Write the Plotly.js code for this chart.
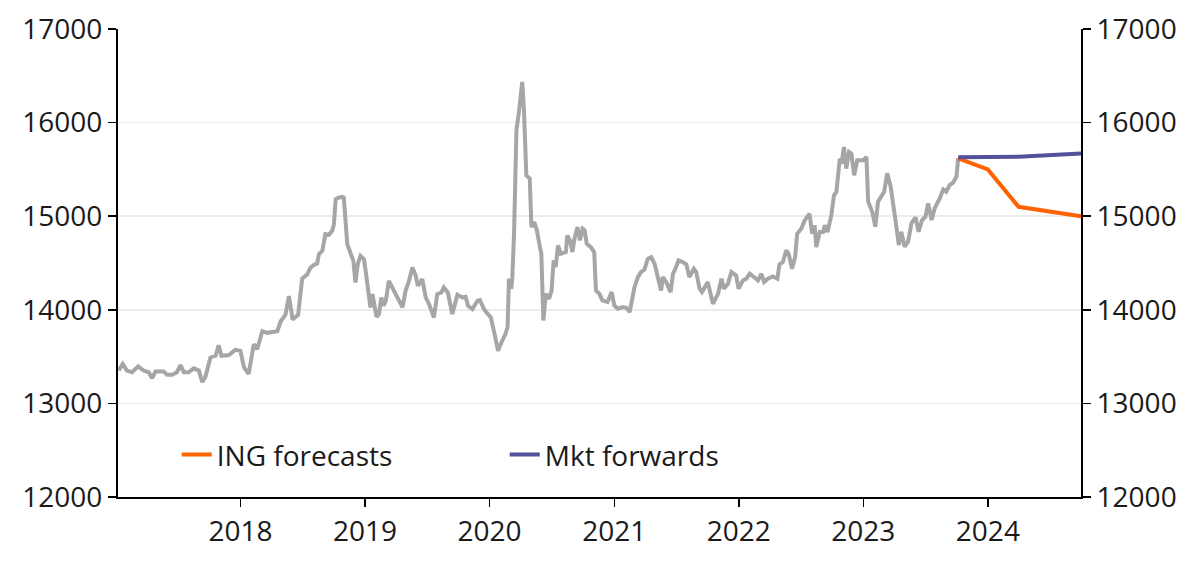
<!DOCTYPE html>
<html>
<head>
<meta charset="utf-8">
<script src="https://cdn.plot.ly/plotly-3.0.1.min.js"></script>
<style>
  html, body { margin: 0; padding: 0; background: #fff; }
  #plot { width: 1200px; height: 563px; }
</style>
</head>
<body>
<div id="plot"></div>
<script>
// spot rate (roughly every 1-2 weeks)
var spotDates = [
  "2017-01-09","2017-01-21","2017-02-02","2017-02-17","2017-03-07","2017-03-23","2017-04-07","2017-04-17","2017-04-27",
  "2017-05-21","2017-05-31","2017-06-15","2017-06-29","2017-07-09","2017-07-19","2017-08-02","2017-08-17","2017-09-01",
  "2017-09-11","2017-09-20","2017-10-05","2017-10-20","2017-10-29","2017-11-06","2017-11-28","2017-12-17",
  "2018-01-01","2018-01-11","2018-01-25","2018-02-09","2018-02-19","2018-03-06","2018-03-20","2018-04-19","2018-04-29",
  "2018-05-13","2018-05-23","2018-06-03","2018-06-19","2018-07-01","2018-07-16","2018-07-25","2018-08-04","2018-08-14",
  "2018-08-19","2018-08-29","2018-09-07","2018-09-17","2018-09-27","2018-10-02","2018-10-07","2018-10-16","2018-10-26",
  "2018-10-31","2018-11-10","2018-11-20","2018-11-28","2018-12-04","2018-12-11","2018-12-19","2018-12-29",
  "2019-01-03","2019-01-12","2019-01-17","2019-01-23","2019-01-29","2019-02-04","2019-02-11","2019-02-18","2019-02-24",
  "2019-03-03","2019-03-12","2019-03-22","2019-04-01","2019-04-11","2019-04-21","2019-04-30","2019-05-10","2019-05-20",
  "2019-05-30","2019-06-05","2019-06-18","2019-06-28","2019-07-08","2019-07-22","2019-08-01","2019-08-13","2019-08-20",
  "2019-09-01","2019-09-14","2019-09-29","2019-10-13","2019-10-23","2019-10-30","2019-11-12","2019-11-27","2019-12-04",
  "2019-12-16","2019-12-26",
  "2020-01-05","2020-01-19","2020-01-26","2020-02-05","2020-02-17","2020-02-23","2020-02-27","2020-03-05","2020-03-08",
  "2020-03-13","2020-03-20","2020-03-28","2020-04-06","2020-04-11","2020-04-18","2020-04-28","2020-05-03","2020-05-11",
  "2020-05-19","2020-05-26","2020-06-01","2020-06-07","2020-06-14","2020-06-24","2020-07-01","2020-07-07","2020-07-13",
  "2020-07-20","2020-07-28","2020-08-12","2020-08-16","2020-08-24","2020-08-31","2020-09-07","2020-09-15","2020-09-22",
  "2020-09-30","2020-10-06","2020-10-12","2020-10-24","2020-11-03","2020-11-08","2020-11-18","2020-11-27","2020-12-12",
  "2020-12-24",
  "2021-01-01","2021-01-11","2021-01-26","2021-02-05","2021-02-15","2021-03-01","2021-03-11","2021-03-20","2021-03-30",
  "2021-04-09","2021-04-19","2021-04-29","2021-05-09","2021-05-18","2021-05-23","2021-06-02","2021-06-15","2021-06-22",
  "2021-07-01","2021-07-08","2021-07-21","2021-07-31","2021-08-09","2021-08-22","2021-08-29","2021-09-08","2021-09-15",
  "2021-10-02","2021-10-17","2021-11-01","2021-11-11","2021-11-18","2021-11-30","2021-12-10","2021-12-24","2021-12-31",
  "2022-01-13","2022-01-23","2022-02-02","2022-02-16","2022-02-26","2022-03-08","2022-03-16","2022-03-27","2022-04-11",
  "2022-04-24","2022-04-30","2022-05-10","2022-05-20","2022-05-27","2022-06-06","2022-06-15","2022-06-21","2022-07-03",
  "2022-07-13","2022-07-27","2022-08-04","2022-08-11","2022-08-16","2022-08-26","2022-09-05","2022-09-10","2022-09-18",
  "2022-09-29","2022-10-07","2022-10-14","2022-10-24","2022-10-29","2022-11-05","2022-11-12","2022-11-20","2022-11-27",
  "2022-12-05","2022-12-14","2022-12-31",
  "2023-01-10","2023-01-15","2023-01-27","2023-02-05","2023-02-13","2023-02-23","2023-03-03","2023-03-12","2023-03-22",
  "2023-04-03","2023-04-15","2023-04-22","2023-05-02","2023-05-12","2023-05-22","2023-06-03","2023-06-12","2023-06-22",
  "2023-07-02","2023-07-10","2023-07-20","2023-07-29","2023-08-13","2023-08-23","2023-09-01","2023-09-11","2023-09-21",
  "2023-10-01","2023-10-06"
];
var spotValues = [
  13351,13421,13351,13333,13396,13351,13333,13270,13340,
  13340,13305,13305,13333,13410,13333,13333,13375,13351,
  13228,13281,13491,13509,13621,13509,13516,13572,
  13561,13386,13316,13632,13579,13772,13754,13772,13877,
  13947,14147,13895,13947,14333,14379,14450,14480,14495,
  14594,14630,14808,14801,14843,14915,15181,15199,15206,
  15199,14701,14612,14523,14292,14487,14576,14541,
  14416,14167,14025,14167,14060,13925,13954,14132,14043,
  14096,14309,14238,14149,14096,14025,14203,14309,14452,
  14363,14256,14327,14132,14060,13918,14167,14185,14238,
  14185,13954,14160,14132,14139,14043,14007,14096,14103,
  14007,13961,
  13918,13690,13562,13651,13743,13815,14332,14225,14349,
  14813,15918,16132,16435,16132,15437,15401,14884,14938,
  14849,14706,14599,13886,14171,14118,14207,14528,14456,
  14688,14599,14617,14795,14742,14617,14777,14884,14742,
  14866,14849,14706,14670,14617,14207,14171,14100,14082,
  14189,
  14046,14011,14029,14022,13975,14242,14349,14403,14428,
  14545,14563,14492,14349,14207,14349,14296,14189,14385,
  14456,14528,14510,14485,14349,14439,14403,14225,14189,
  14296,14064,14171,14332,14225,14278,14403,14367,14225,
  14314,14332,14385,14349,14314,14385,14296,14332,14357,
  14332,14485,14510,14635,14599,14439,14563,14813,14866,
  14955,15027,14813,14902,14670,14831,14831,14902,14831,
  15009,15223,15259,15615,15560,15740,15508,15686,15668,
  15437,15597,15597,
  15633,15155,15048,14888,15155,15226,15262,15458,15315,
  15013,14692,14834,14674,14728,14924,14988,14834,14959,
  14995,15138,14959,15084,15191,15287,15262,15333,15358,
  15422,15619
];

// ING forecasts
var ingDates = ["2023-10-06", "2024-01-01", "2024-03-31", "2024-09-30"];
var ingValues = [15619, 15500, 15100, 15000];

// market forwards
var fwdDates = ["2023-10-06", "2024-03-31", "2024-09-30"];
var fwdValues = [15630, 15635, 15670];

var yTicks = [12000, 13000, 14000, 15000, 16000, 17000];

var spot = {
  x: spotDates,
  y: spotValues,
  type: "scatter",
  mode: "lines",
  line: { color: "#a6a6a6", width: 4 },
  showlegend: false,
  hoverinfo: "x+y"
};

var ing = {
  x: ingDates,
  y: ingValues,
  yaxis: "y2",
  name: "ING forecasts",
  type: "scatter",
  mode: "lines",
  line: { color: "#ff6200", width: 4 }
};

var fwd = {
  x: fwdDates,
  y: fwdValues,
  yaxis: "y2",
  name: "Mkt forwards",
  type: "scatter",
  mode: "lines",
  line: { color: "#525199", width: 4 }
};

var tickFont = { family: "Open Sans, sans-serif", size: 28, color: "#1a1a1a" };

var yCommon = {
  range: [12000, 17000],
  tickvals: yTicks,
  tickformat: "d",
  ticks: "outside",
  ticklen: 8,
  tickwidth: 1.5,
  tickcolor: "#000",
  showline: true,
  linecolor: "#000",
  linewidth: 2,
  tickfont: tickFont,
  zeroline: false,
  fixedrange: true
};

var layout = {
  width: 1200,
  height: 563,
  margin: { l: 118, r: 119, t: 29, b: 66 },
  paper_bgcolor: "#fff",
  plot_bgcolor: "#fff",
  font: tickFont,
  xaxis: {
    type: "date",
    range: ["2017-01-07", "2024-09-30"],
    tick0: "2018-01-01",
    dtick: "M12",
    tickformat: "%Y",
    ticks: "outside",
    ticklen: 8,
    tickwidth: 1.5,
    tickcolor: "#000",
    showline: true,
    linecolor: "#000",
    linewidth: 2,
    showgrid: false,
    tickfont: tickFont,
    zeroline: false
  },
  yaxis: Object.assign({}, yCommon, {
    side: "left",
    showgrid: true,
    gridcolor: "#ececec",
    gridwidth: 1.5
  }),
  yaxis2: Object.assign({}, yCommon, {
    side: "right",
    overlaying: "y",
    showgrid: false
  }),
  legend: {
    orientation: "h",
    x: 0.061,
    y: 0.09,
    xanchor: "left",
    yanchor: "middle",
    bgcolor: "rgba(0,0,0,0)",
    font: tickFont,
    entrywidth: 283,
    entrywidthmode: "pixels"
  },
  showlegend: true
};

Plotly.newPlot("plot", [spot, ing, fwd], layout, { displayModeBar: false, staticPlot: true });
</script>
</body>
</html>
